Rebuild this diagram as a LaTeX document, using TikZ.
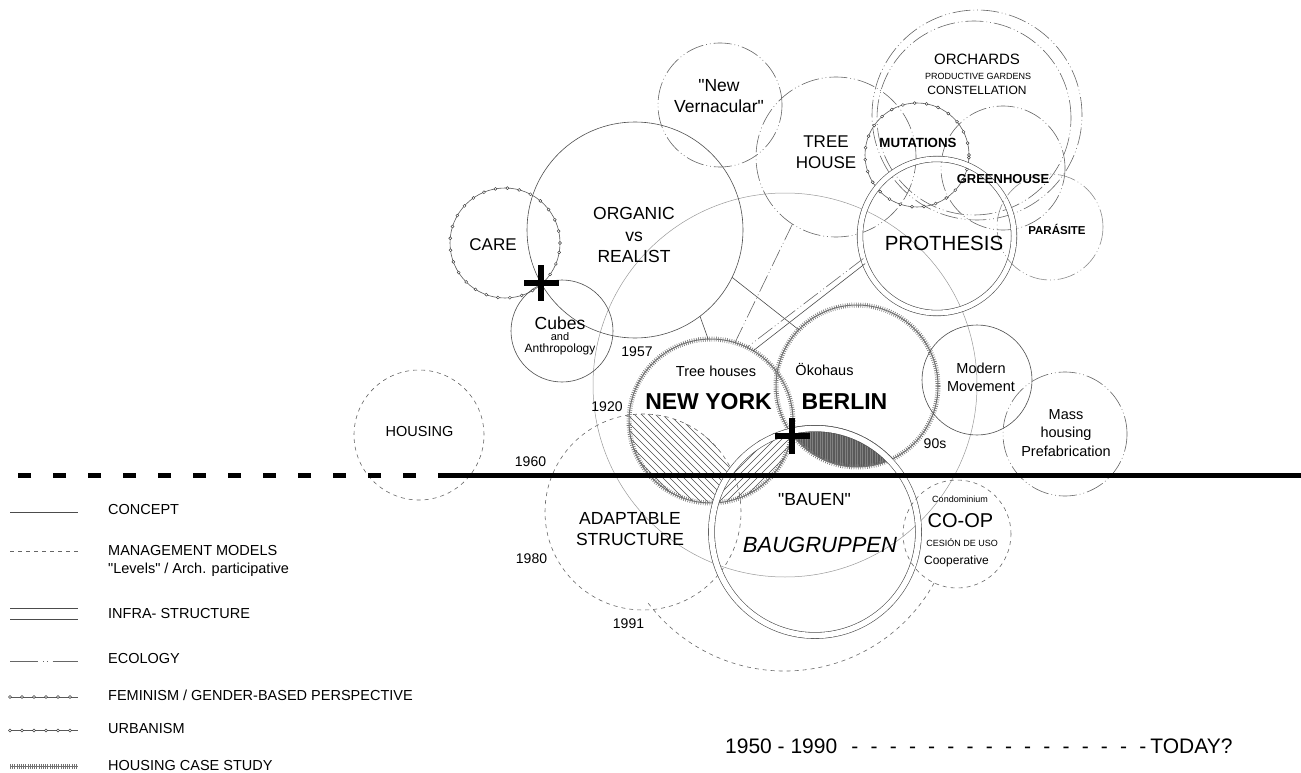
\documentclass[tikz,border=0pt]{standalone}
\usepackage{fontspec}
\setmainfont{Liberation Sans}
\usetikzlibrary{backgrounds}

\newcommand{\dashrow}{\foreach \i in {1,...,16}{\hspace{12.2pt}-}}

\tikzset{
    ring/.style={circle, inner sep=0pt, outer sep=0pt, minimum size=#1},
    concept/.style={draw=black!70, line width=0.6pt},
    management/.style={draw=black!60, line width=0.6pt, dash pattern=on 4pt off 4pt},
    infra/.style={draw=black!70, line width=0.6pt, double=white, double distance=#1},
    infra/.default=5pt,
    ecology/.style={draw=black!60, line width=0.6pt, dash pattern=on 18pt off 3pt on 0.8pt off 3pt on 0.8pt off 3pt},
    dotline/.style={draw=black!65, line width=0.6pt,
        postaction={draw=black!75, line width=3.6pt, line cap=round, dash pattern=on 0pt off 12pt},
        postaction={draw=white, line width=1.8pt, line cap=round, dash pattern=on 0pt off 12pt}},
    casestudy/.style={draw=black!55, line width=1pt,
        postaction={draw=black!55, line width=5pt, dash pattern=on 0.6pt off 1.6pt}},
    faint/.style={draw=black!40, line width=0.5pt},
    hatch/.style={black!70, line width=0.5pt},
    crossmark/.style={black, line width=5.5pt},
    txt/.style={inner sep=0pt, align=center, font=\fontsize{#1}{#1}\selectfont},
    txtb/.style={inner sep=0pt, align=center, font=\fontsize{#1}{#1}\selectfont\bfseries},
}

\begin{document}
\begin{tikzpicture}[x=1pt, y=-1pt]
            \useasboundingbox (0,0) rectangle (1301,773);

            % Circles
            \node[ring=384pt, faint] (bigring) at (785,385) {};
            \node[ring=110pt, dotline] (care) at (505,243) {};
            \node[ring=216pt, concept] (organic) at (635,230) {};
            \node[ring=102pt, concept] (cubes) at (562,331) {};
            \node[ring=124pt, ecology] (vernacular) at (720,105) {};
            \node[ring=160pt, ecology] (treehouse) at (836,157) {};
            \node[ring=210pt, ecology] (orchards) at (977,115) {};
            \node[ring=194pt, ecology] (orchardsin) at (974,118) {};
            \node[ring=104pt, dotline] (mutations) at (917,155) {};
            \node[ring=124pt, ecology] (greenhouse) at (1003,168) {};
            \node[ring=154pt, infra] (prothesis) at (937,236) {};
            \node[ring=106pt, ecology, draw=black!45] (parasite) at (1050,227) {};
            \node[ring=164pt, casestudy] (newyork) at (711,421) {};
            \node[ring=162pt, casestudy] (berlin) at (857,386) {};
            \node[ring=110pt, concept] (modern) at (977,380) {};
            \node[ring=124pt, ecology] (masshousing) at (1065,434) {};
            \node[ring=130pt, management] (housing) at (419,435) {};
            \node[ring=196pt, management] (adaptable) at (643,512) {};
            \node[ring=207pt, infra=5.5pt] (baugruppen) at (815,532) {};
            \node[ring=108pt, management] (coop) at (957,534) {};

            % Hatched overlaps
            \begin{scope}[on background layer]
                \begin{scope}
                    \clip (newyork.center) circle (82);
                    \clip (adaptable.center) circle (98);
                    \foreach \k in {0,...,32}
                        \draw[hatch] (495+\k*7,380) -- ++(140,140);
                \end{scope}
                \begin{scope}
                    \clip (newyork.center) circle (82);
                    \clip (baugruppen.center) circle (107);
                    \fill[white] (600,380) rectangle (820,520);
                    \foreach \k in {0,...,26}
                        \draw[hatch] (610+\k*7,520) -- ++(140,-140);
                \end{scope}
                \begin{scope}
                    \clip (berlin.center) circle (81);
                    \clip (baugruppen.center) circle (107);
                    \fill[black!65] (760,400) rectangle (960,480);
                    \draw[black!50, line width=0.3pt, step=2.5] (760,400) grid (960,480);
                \end{scope}
            \end{scope}

            % Lines
            \draw[concept] (organic.-26) -- (berlin.136);
            \draw[concept] (organic.-53) -- (newyork.92);
            \draw[ecology] (treehouse.237) -- (newyork.73);
            \draw[concept] (prothesis.201) -- (newyork.59);
            \draw[ecology] (prothesis.197) -- (newyork.64);
            \draw[management] (coop.-115) arc[start angle=29, end angle=144, radius=171];

            % Time line
            \coordinate (tlstart) at (0,475);
            \coordinate (tlmid) at (438,475);
            \coordinate (tlend) at (1301,475);
            \draw[line width=5pt] (tlmid) -- (tlend);
            \draw[line width=5pt, dash pattern=on 13pt off 22pt, dash phase=13pt] (tlmid) -- (tlstart);

            % Labels
            \node[txt=17] (lcare) at (493,245) {CARE};
            \node[txt=17, font=\fontsize{17.5}{21.5}\selectfont] (lorganic) at (634,235) {ORGANIC\\vs\\REALIST};
            \node[txt=17.5] (lcubes) at (560,323) {Cubes};
            \node[txt=11] (land) at (560,337) {and};
            \node[txt=12] (lanthro) at (560,349.5) {Anthropology};
            \node[txt=14] (l1957) at (637,352) {1957};
            \node[txt=17.5, font=\fontsize{17.5}{21}\selectfont] (lvernacular) at (719,96) {\textquotedbl New\\Vernacular\textquotedbl};
            \node[txt=17, font=\fontsize{17}{21.5}\selectfont] (ltreehouse) at (826,152) {TREE\\HOUSE};
            \node[txt=15] (lorchards) at (977,59) {ORCHARDS};
            \node[txt=9] (lgardens) at (978,76.5) {PRODUCTIVE GARDENS};
            \node[txt=12] (lconstel) at (977,90.5) {CONSTELLATION};
            \node[txtb=13.3] (lmutations) at (918,142.5) {MUTATIONS};
            \node[txtb=13] (lgreenhouse) at (1003,179) {GREENHOUSE};
            \node[txtb=11.5] (lparasite) at (1057,229) {PARÁSITE};
            \node[txt=20.5] (lprothesis) at (944,243.5) {PROTHESIS};
            \node[txt=14.5] (ltreehouses) at (716,371) {Tree houses};
            \node[txtb=23] (lnewyork) at (708.5,401.5) {NEW YORK};
            \node[txt=14.5] (lokohaus) at (824.5,370) {Ökohaus};
            \node[txtb=23] (lberlin) at (844.5,401.5) {BERLIN};
            \node[txt=14] (l1920) at (607,406.5) {1920};
            \node[txt=14.5, font=\fontsize{14.5}{18}\selectfont] (lmodern) at (981,377) {Modern\\Movement};
            \node[txt=14.5, font=\fontsize{14.5}{18.5}\selectfont] (lmass) at (1066,433) {Mass\\housing\\Prefabrication};
            \node[txt=14] (l90s) at (935,443.5) {90s};
            \node[txt=14.5] (lhousing) at (419.5,432) {HOUSING};
            \node[txt=14] (l1960) at (530.5,461.5) {1960};
            \node[txt=17.5, font=\fontsize{17.5}{21}\selectfont] (ladaptable) at (630,529) {ADAPTABLE\\STRUCTURE};
            \node[txt=17.5] (lbauen) at (814.5,499.5) {\textquotedbl BAUEN\textquotedbl};
            \node[txt=22, font=\fontsize{22}{22}\selectfont\itshape] (lbaugruppen) at (820,544.5) {BAUGRUPPEN};
            \node[txt=14] (l1980) at (531.5,559) {1980};
            \node[txt=14] (l1991) at (628.5,624) {1991};
            \node[txt=9] (lcondo) at (960,499) {Condominium};
            \node[txt=20] (lcoop) at (960.5,520.5) {CO-OP};
            \node[txt=9] (lcesion) at (962,543) {CESIÓN DE USO};
            \node[txt=12] (lcooperative) at (956.5,561) {Cooperative};
            \node[txt=21, anchor=west] (lera) at (725,746.5) {1950 - 1990\hspace{2pt}\dashrow\hspace{4pt}TODAY?};

            % Crosses
            \draw[crossmark] (524,283) -- (559,283) (541,265) -- (541,301);
            \draw[crossmark] (775,436) -- (810,436) (792,418) -- (792,454);

            % Legend
            \draw[concept] (10,512.5) -- (78,512.5);
            \draw[management] (10,551) -- (78,551);
            \draw[concept] (10,608) -- (78,608) (10,619) -- (78,619);
            \draw[ecology, dash pattern=on 28pt off 5pt on 0.8pt off 3pt on 0.8pt off 5pt on 30pt] (10,661.5) -- (78,661.5);
            \draw[dotline] (10,697) -- (78,697);
            \draw[dotline] (10,730.5) -- (78,730.5);
            \draw[casestudy] (10,766) -- (78,766);
            \node[txt=14.5, anchor=west] (legconcept) at (108,510) {CONCEPT};
            \node[txt=14.5, anchor=west] (legmanage) at (108,551) {MANAGEMENT MODELS};
            \node[txt=14.5, anchor=west] (leglevels) at (108,569.5) {\textquotedbl Levels\textquotedbl{} / Arch. participative};
            \node[txt=14.5, anchor=west] (leginfra) at (108,614) {INFRA- STRUCTURE};
            \node[txt=14.5, anchor=west] (legecology) at (108,659) {ECOLOGY};
            \node[txt=14.5, anchor=west] (legfeminism) at (108,695) {FEMINISM / GENDER-BASED PERSPECTIVE};
            \node[txt=14.5, anchor=west] (legurbanism) at (108,729) {URBANISM};
            \node[txt=14.5, anchor=west] (legcase) at (108,765.5) {HOUSING CASE STUDY};
\end{tikzpicture}
\end{document}
